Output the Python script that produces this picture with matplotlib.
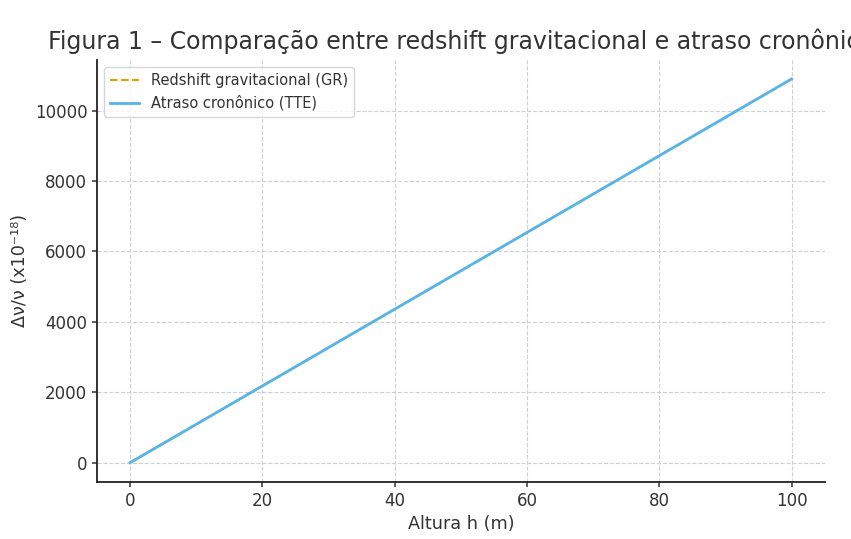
import matplotlib
matplotlib.use("Agg")
import matplotlib.pyplot as plt

# altura (m) e desvio de frequência (x1e-18)
altura = [0, 20, 40, 60, 80, 100]
gr_vals = [0, 2180, 4360, 6540, 8720, 10900]
tte_vals = [0, 2180, 4360, 6540, 8720, 10900]

plt.rcParams['font.family'] = ['DejaVu Sans']
plt.rcParams['text.color'] = '#333333'
plt.rcParams['axes.labelcolor'] = '#333333'
plt.rcParams['xtick.color'] = '#333333'
plt.rcParams['ytick.color'] = '#333333'

fig = plt.figure(figsize=(8.51, 5.39), dpi=100)
ax = fig.add_axes([0.114, 0.106, 0.855, 0.783])

ax.plot(altura, gr_vals, linestyle='--', color='#E69F00', linewidth=1.5,
        label='Redshift gravitacional (GR)')
ax.plot(altura, tte_vals, color='#56B4E9', linewidth=2,
        label='Atraso cronônico (TTE)')

ax.set_title('Figura 1 – Comparação entre redshift gravitacional e atraso cronônico',
             fontsize=17, pad=8)
ax.set_xlabel('Altura h (m)', fontsize=12.7)
ax.set_ylabel('Δν/ν (x10⁻¹⁸)', fontsize=12.7)
ax.tick_params(labelsize=12, width=1.1)

ax.grid(True, linestyle='--', color='#d0d0d0', linewidth=0.8)
ax.spines['top'].set_visible(False)
ax.spines['right'].set_visible(False)
for s in ('left', 'bottom'):
    ax.spines[s].set_linewidth(1.3)
    ax.spines[s].set_color('#222222')
ax.legend(loc='upper left', fontsize=10.5)

fig.savefig('out.png', dpi=100)
